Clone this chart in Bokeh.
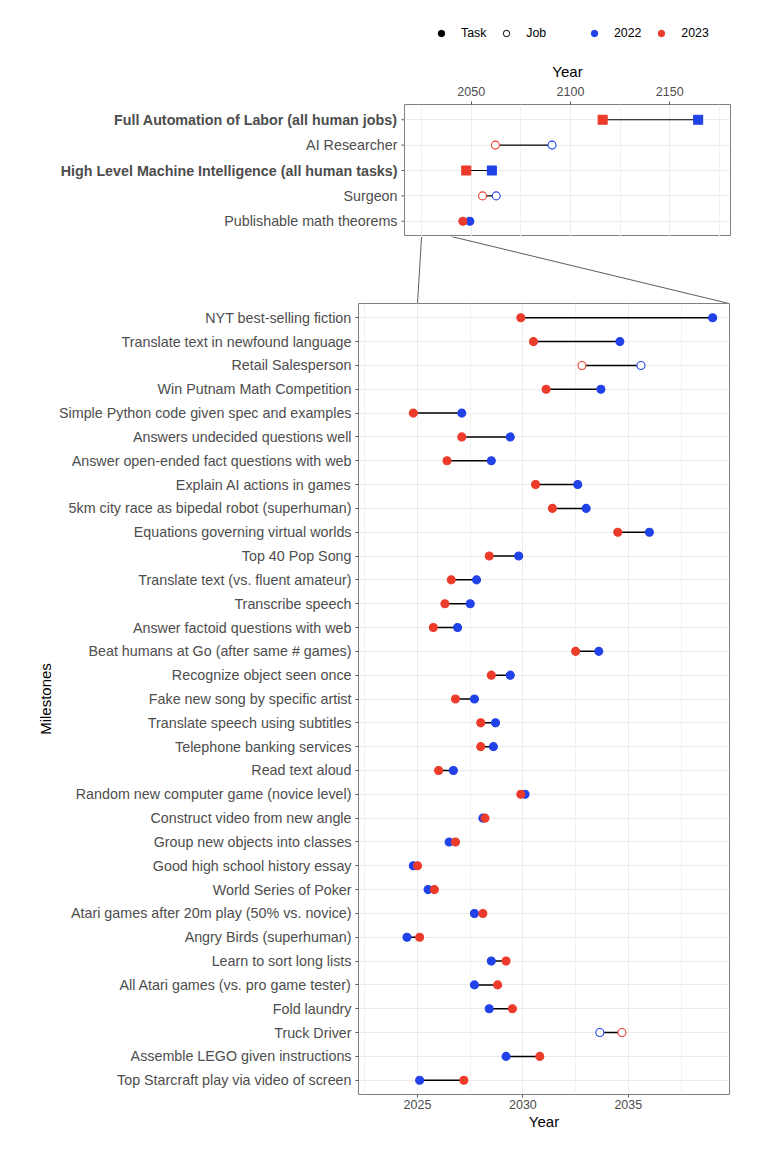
from bokeh.plotting import figure
from bokeh.models import ColumnDataSource, FactorRange, Range1d, FixedTicker, Legend, LegendItem, Grid, CategoricalTicker
from bokeh.layouts import column, row
from bokeh.embed import file_html
from bokeh.resources import INLINE
from bokeh.core.properties import value

RED = "#EC3B2B"
BLUE = "#2142E8"
FONT = "Liberation Sans"
TXT = "#4D4D4D"
GRID = "#EBEBEB"
MINOR = "#F2F2F2"
BORDER = "#7F7F7F"
NAN = float("nan")

# ---------------- data ----------------
top_names = [
    "Full Automation of Labor (all human jobs)",
    "AI Researcher",
    "High Level Machine Intelligence (all human tasks)",
    "Surgeon",
    "Publishable math theorems",
]
top_kind = ["Aggregate", "Job", "Aggregate", "Job", "Task"]
top_2022 = [2164.3, 2090.7, 2060.4, 2062.6, 2049.3]
top_2023 = [2116.2, 2062.2, 2047.5, 2055.7, 2045.8]

bottom_names = [
    "NYT best-selling fiction",
    "Translate text in newfound language",
    "Retail Salesperson",
    "Win Putnam Math Competition",
    "Simple Python code given spec and examples",
    "Answers undecided questions well",
    "Answer open-ended fact questions with web",
    "Explain AI actions in games",
    "5km city race as bipedal robot (superhuman)",
    "Equations governing virtual worlds",
    "Top 40 Pop Song",
    "Translate text (vs. fluent amateur)",
    "Transcribe speech",
    "Answer factoid questions with web",
    "Beat humans at Go (after same # games)",
    "Recognize object seen once",
    "Fake new song by specific artist",
    "Translate speech using subtitles",
    "Telephone banking services",
    "Read text aloud",
    "Random new computer game (novice level)",
    "Construct video from new angle",
    "Group new objects into classes",
    "Good high school history essay",
    "World Series of Poker",
    "Atari games after 20m play (50% vs. novice)",
    "Angry Birds (superhuman)",
    "Learn to sort long lists",
    "All Atari games (vs. pro game tester)",
    "Fold laundry",
    "Truck Driver",
    "Assemble LEGO given instructions",
    "Top Starcraft play via video of screen",
]
bottom_kind = ["Task", "Task", "Job"] + ["Task"] * 27 + ["Job", "Task", "Task"]
bottom_2022 = [2039.0, 2034.6, 2035.6, 2033.7, 2027.1, 2029.4, 2028.5, 2032.6, 2033.0, 2036.0,
               2029.8, 2027.8, 2027.5, 2026.9, 2033.6, 2029.4, 2027.7, 2028.7, 2028.6, 2026.7,
               2030.1, 2028.1, 2026.5, 2024.8, 2025.5, 2027.7, 2024.5, 2028.5, 2027.7, 2028.4,
               2033.65, 2029.2, 2025.1]
bottom_2023 = [2029.9, 2030.5, 2032.8, 2031.1, 2024.8, 2027.1, 2026.4, 2030.6, 2031.4, 2034.5,
               2028.4, 2026.6, 2026.3, 2025.75, 2032.5, 2028.5, 2026.8, 2028.0, 2028.0, 2026.0,
               2029.9, 2028.2, 2026.8, 2025.0, 2025.8, 2028.1, 2025.1, 2029.2, 2028.8, 2029.5,
               2034.7, 2030.8, 2027.2]

legend_shapes = ["Task", "Job"]
legend_years = ["2022", "2023"]
top_ticks = [2050, 2100, 2150]
top_minor = [2025, 2075, 2125, 2175]
bottom_ticks = [2025, 2030, 2035]
bottom_minor = [2022.5, 2027.5, 2032.5, 2037.5]
top_limits = (2016.4, 2180.6)
bottom_limits = (2022.2, 2039.8)
zoom_window = (2025, 2040)

# ---------------- geometry ----------------
TOTAL_W = 750
LEG_TOP = 8
LEG_FRAME_H = 50
LEG1_LEFT = 433
LEG1_W = 153
LEG2_W = TOTAL_W - LEG1_LEFT - LEG1_W
TOP_BORDER_TOP = 46
TOP_FRAME_H = 132
TOP_RIGHT_BORDER = 20
TOP_FRAME_W = 326
LAB_W = TOTAL_W - (TOP_FRAME_W + TOP_RIGHT_BORDER)
CONN_H = 67
BOT_LEFT_BORDER = 358
BOT_FRAME_W = 371
BOT_RIGHT_BORDER = TOTAL_W - BOT_LEFT_BORDER - BOT_FRAME_W
BOT_FRAME_H = 791
BOT_BORDER_BOTTOM = 46


def base_fig(**kw):
    p = figure(output_backend="svg", toolbar_location=None, **kw)
    p.background_fill_color = "white"
    p.border_fill_color = "white"
    return p


def bare_fig(fw, fh, left=0, right=0, top=0, bottom=0, **kw):
    p = base_fig(frame_width=fw, frame_height=fh, min_border_left=left, min_border_right=right,
                 min_border_top=top, min_border_bottom=bottom,
                 x_axis_location=None, y_axis_location=None, **kw)
    p.outline_line_color = None
    p.grid.visible = False
    return p


def style_panel(p, xticks, xminor, tick_standoff, title_standoff):
    p.outline_line_color = BORDER
    p.outline_line_width = 1
    ticker = FixedTicker(ticks=xticks, minor_ticks=xminor)
    p.xaxis.ticker = ticker
    p.xgrid.ticker = ticker
    p.xgrid.grid_line_color = GRID
    p.xgrid.minor_grid_line_color = MINOR
    if len(p.ygrid) == 0:
        p.add_layout(Grid(dimension=1, ticker=CategoricalTicker()))
    p.ygrid.grid_line_color = GRID
    for ax in p.axis:
        ax.axis_line_color = None
        ax.major_tick_in = 0
        ax.major_tick_out = 3
        ax.minor_tick_in = 0
        ax.minor_tick_out = 0
        ax.major_tick_line_color = "#555555"
        ax.major_label_text_font = FONT
        ax.major_label_text_color = TXT
        ax.axis_label_text_font = FONT
        ax.axis_label_text_font_style = "normal"
        ax.axis_label_text_font_size = "15px"
        ax.axis_label_text_color = "black"
    p.xaxis.major_label_text_font_size = "12.5px"
    p.xaxis.axis_label = "Year"
    p.xaxis.major_label_standoff = tick_standoff
    p.xaxis.axis_label_standoff = title_standoff


def point_source(names, kinds, vals, color):
    return ColumnDataSource(dict(
        y=names,
        x=vals,
        marker=["square" if k == "Aggregate" else "circle" for k in kinds],
        fill=["white" if k == "Job" else color for k in kinds],
        size=[9 if k == "Aggregate" else 8 for k in kinds],
    ))


def draw_dumbbells(p, names, kinds, v22, v23, lw):
    p.segment(x0=v22, y0=names, x1=v23, y1=names, line_color="black", line_width=lw)
    for vals, col in ((v22, BLUE), (v23, RED)):
        p.scatter(x="x", y="y", marker="marker", size="size", fill_color="fill",
                  line_color=col, line_width=1.1, source=point_source(names, kinds, vals, col))


# ---------------- legend row ----------------
def legend_fig(width, left, specs):
    f = bare_fig(width, LEG_FRAME_H, left=left, top=LEG_TOP,
                 x_range=Range1d(0, 1), y_range=Range1d(0, 1))
    items = []
    for label, fill, line in specs:
        # a single NaN point: nothing is drawn in the frame, but the legend gets its glyph
        r = f.scatter(x=[NAN], y=[NAN], marker="circle", size=7, fill_color=fill,
                      line_color=line, line_width=1)
        items.append(LegendItem(label=label, renderers=[r]))
    lg = Legend(items=items, location="left", orientation="horizontal", glyph_width=16,
                glyph_height=16, label_standoff=12, spacing=12, padding=5, margin=0,
                border_line_color=None, background_fill_alpha=0, label_text_font=FONT,
                label_text_font_size="12.3px", label_text_color="black", label_height=16,
                label_width=0)
    f.add_layout(lg, "center")
    return f


leg1 = legend_fig(LEG1_W, LEG1_LEFT, [(legend_shapes[0], "black", "black"),
                                      (legend_shapes[1], "white", "black")])
leg2 = legend_fig(LEG2_W, 0, [(legend_years[0], BLUE, BLUE), (legend_years[1], RED, RED)])

# ---------------- top panel ----------------
top_y = FactorRange(factors=top_names[::-1], range_padding=0.1, range_padding_units="absolute")
ptop = base_fig(frame_width=TOP_FRAME_W, frame_height=TOP_FRAME_H,
                x_range=Range1d(*top_limits), y_range=top_y, x_axis_location="above",
                y_axis_location=None,
                min_border_left=0, min_border_right=TOP_RIGHT_BORDER,
                min_border_top=TOP_BORDER_TOP, min_border_bottom=0)
style_panel(ptop, top_ticks, top_minor, 6, 4)
draw_dumbbells(ptop, top_names, top_kind, top_2022, top_2023, 1.2)

# label column for the top panel (pixel x-units): tick marks + per-label bold/normal text
plab = bare_fig(LAB_W, TOP_FRAME_H, top=TOP_BORDER_TOP, x_range=Range1d(0, LAB_W), y_range=top_y)
plab.scatter(x=[LAB_W - 1.5] * len(top_names), y=top_names, marker="dash", size=3,
             line_color="#555555", line_width=1)
plab.text(x=[LAB_W - 7] * len(top_names), y=top_names, text=top_names,
          text_font_style=["bold" if k == "Aggregate" else "normal" for k in top_kind],
          text_align="right", text_baseline="middle",
          text_font=value(FONT), text_font_size=value("14.3px"), text_color=TXT)

# ---------------- connector (frame aligned with the bottom panel; x in page pixels) ----------------
conn = bare_fig(BOT_FRAME_W, CONN_H, left=BOT_LEFT_BORDER, right=BOT_RIGHT_BORDER,
                x_range=Range1d(BOT_LEFT_BORDER, BOT_LEFT_BORDER + BOT_FRAME_W),
                y_range=Range1d(0, CONN_H))


def top_px(yr):
    return LAB_W + (yr - top_limits[0]) / (top_limits[1] - top_limits[0]) * TOP_FRAME_W


def bot_px(yr):
    v = BOT_LEFT_BORDER + (yr - bottom_limits[0]) / (bottom_limits[1] - bottom_limits[0]) * BOT_FRAME_W
    return min(v, BOT_LEFT_BORDER + BOT_FRAME_W - 0.5)


conn.segment(x0=[top_px(z) for z in zoom_window], y0=[CONN_H, CONN_H],
             x1=[bot_px(z) for z in zoom_window], y1=[0, 0], line_color="#333333", line_width=0.8)

# ---------------- bottom panel ----------------
bot_y = FactorRange(factors=bottom_names[::-1], range_padding=0.1, range_padding_units="absolute")
pb = base_fig(frame_width=BOT_FRAME_W, frame_height=BOT_FRAME_H,
              x_range=Range1d(*bottom_limits), y_range=bot_y,
              min_border_left=BOT_LEFT_BORDER, min_border_right=BOT_RIGHT_BORDER,
              min_border_top=0, min_border_bottom=BOT_BORDER_BOTTOM)
style_panel(pb, bottom_ticks, bottom_minor, 2, 1)
pb.yaxis.major_label_text_font_size = "14.3px"
pb.yaxis.major_label_standoff = 4
pb.yaxis.axis_label = "Milestones"
pb.yaxis.axis_label_standoff = 2
draw_dumbbells(pb, bottom_names, bottom_kind, bottom_2022, bottom_2023, 1.5)

layout = column(row(leg1, leg2), row(plab, ptop), conn, pb)
open("out.html", "w").write(file_html(layout, INLINE))
